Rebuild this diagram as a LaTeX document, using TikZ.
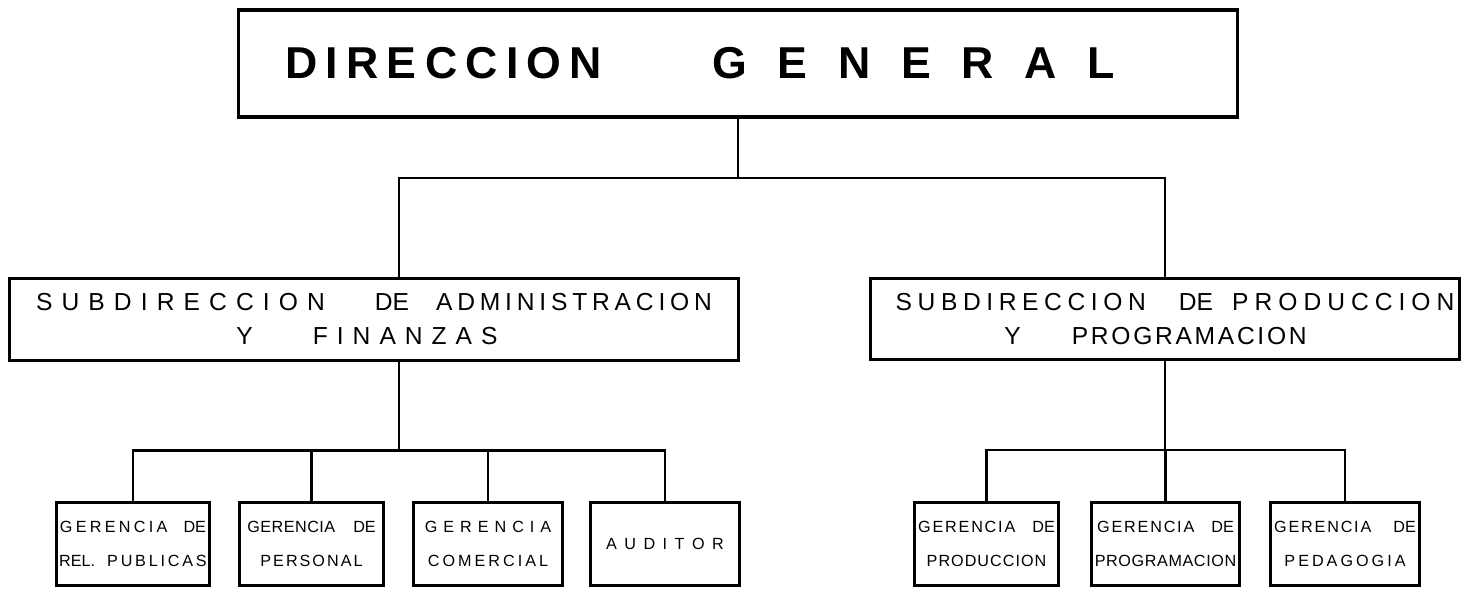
\documentclass[tikz,border=0pt]{standalone}
\usepackage{fontspec}
\setmainfont{Liberation Sans}

\newlength\pxu
\setlength\pxu{0.01cm}
\makeatletter
% letters of #2 with a kern of #1 px between them
\newcommand\spaced[2]{\def\sp@k{}\@tfor\sp@c:=#2\do{\sp@k\sp@c\def\sp@k{\kern#1\pxu}}}
\makeatother

\begin{document}
\begin{tikzpicture}[x=0.01cm, y=-0.01cm,
    box/.style={draw, line width=0.85pt, inner sep=0pt, align=center},
    topbox/.style={box, line width=1pt, font=\fontsize{12.7}{15}\selectfont\bfseries},
    subbox/.style={box, minimum height=0.81cm, font=\fontsize{7}{9.67}\selectfont},
    gerbox/.style={box, minimum height=0.82cm, font=\fontsize{4.6}{9.67}\selectfont},
    link/.style={line width=0.6pt}]

  \fill[white] (0,0) rectangle (1461,588);

  % direccion general
  \node[topbox, minimum width=9.98cm, minimum height=1.07cm] (dg) at (738,63.5)
    {\spaced{8.3}{DIRECCION}\hspace*{1.1cm}\spaced{30.7}{GENERAL}\hspace*{0.76cm}};

  % subdirecciones
  \node[subbox, minimum width=7.28cm] (sa) at (374,319.5)
    {\spaced{9.1}{SUBDIRECCION}\hspace*{0.5cm}DE\hspace*{0.27cm}\spaced{4.8}{ADMINISTRACION}\\
     Y\hspace*{0.6cm}\spaced{9}{FINANZAS}\hspace*{0.14cm}};
  \node[subbox, minimum width=5.88cm] (sp) at (1165,319)
    {\hspace*{0.2cm}\spaced{5.6}{SUBDIRECCION}\hspace*{0.33cm}DE\hspace*{0.19cm}\spaced{6}{PRODUCCION}\\
     Y\hspace*{0.51cm}\spaced{2.7}{PROGRAMACION}\hspace*{0.19cm}};

  % gerencias
  \node[gerbox, minimum width=1.52cm] (g1) at (133,544)
    {\spaced{3.3}{GERENCIA}\hspace*{0.16cm}DE\\ REL.\hspace*{0.12cm}\spaced{2.8}{PUBLICAS}};
  \node[gerbox, minimum width=1.43cm] (g2) at (311.5,544)
    {\spaced{0.5}{GERENCIA}\hspace*{0.18cm}DE\\ \spaced{2}{PERSONAL}};
  \node[gerbox, minimum width=1.48cm] (g3) at (488,544)
    {\spaced{6}{GERENCIA}\\ \spaced{3}{COMERCIAL}};
  \node[gerbox, minimum width=1.48cm] (g4) at (665,544)
    {\spaced{7.5}{AUDITOR}};
  \node[gerbox, minimum width=1.43cm] (g5) at (986.5,544)
    {\spaced{1.8}{GERENCIA}\hspace*{0.17cm}DE\\ \spaced{1}{PRODUCCION}};
  \node[gerbox, minimum width=1.47cm] (g6) at (1165.5,544)
    {\spaced{1.8}{GERENCIA}\hspace*{0.17cm}DE\\ \spaced{0.6}{PROGRAMACION}};
  \node[gerbox, minimum width=1.48cm] (g7) at (1345,544)
    {\spaced{1.8}{GERENCIA}\hspace*{0.22cm}DE\\ \spaced{3}{PEDAGOGIA}};

  % lineas
  \draw[link] (dg.south) -- ++(0,59) -| ([xshift=0.25cm]sa.north);
  \draw[link] (dg.south) -- ++(0,59) -| (sp.north);
  \foreach \g in {g1,g2,g3,g4}
    \draw[link] ([xshift=0.25cm]sa.south) -- ++(0,89) -| (\g.north);
  \foreach \g in {g5,g6,g7}
    \draw[link] (sp.south) -- ++(0,89) -| (\g.north);
\end{tikzpicture}
\end{document}
